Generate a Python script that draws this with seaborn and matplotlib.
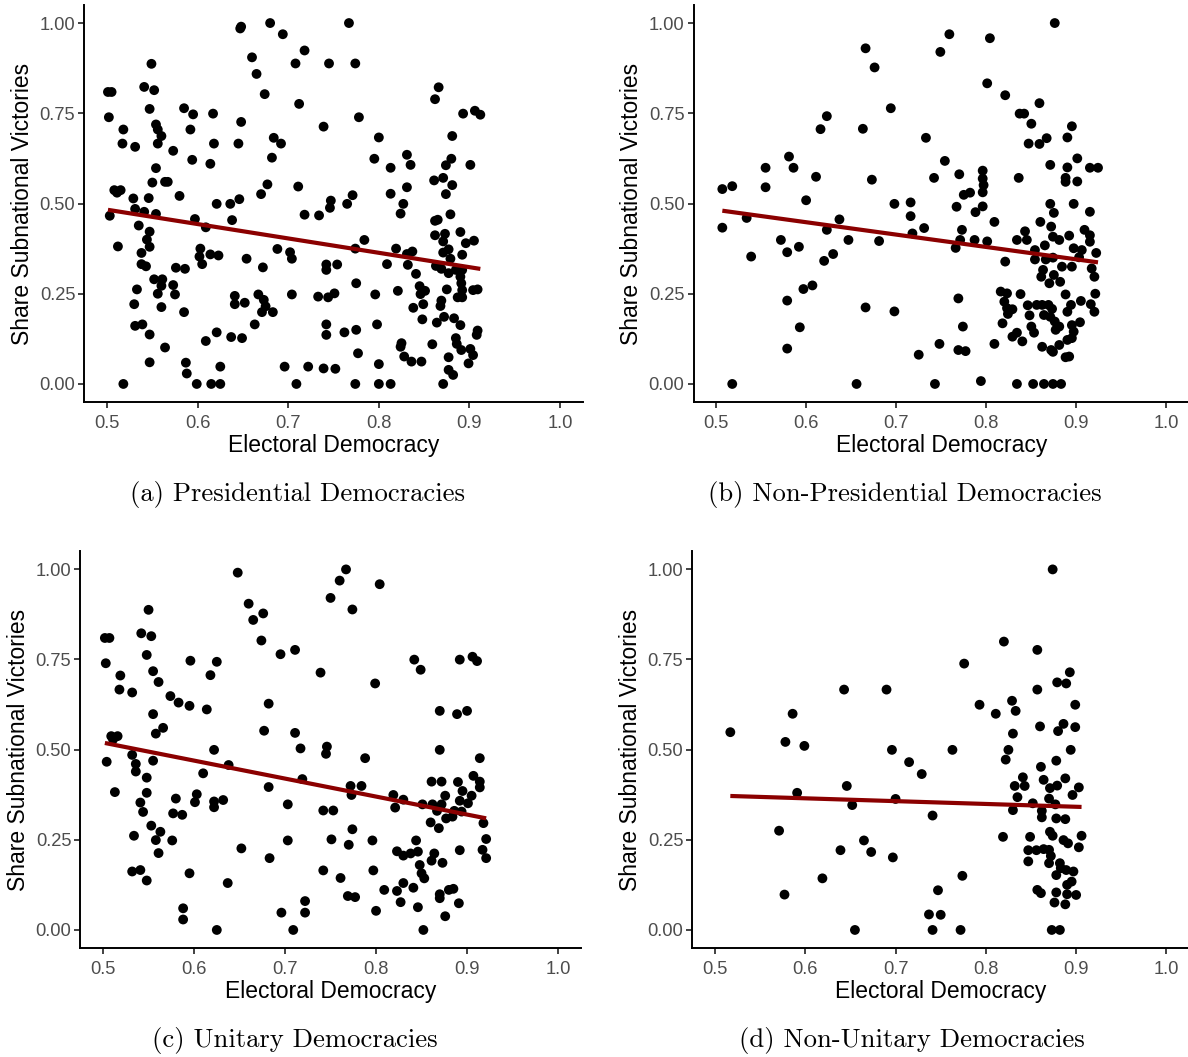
import numpy as np
import pandas as pd
import matplotlib
matplotlib.use("Agg")
import matplotlib.pyplot as plt
import seaborn as sns

# ---------------- data ----------------
pres_pts = [
    (0.647,0.985),(0.648,0.990),(0.680,1.000),(0.694,0.969),(0.660,0.905),(0.665,0.859),(0.674,0.803),
    (0.549,0.887),(0.501,0.809),(0.505,0.809),(0.541,0.823),(0.552,0.814),(0.547,0.762),(0.585,0.764),
    (0.595,0.747),(0.617,0.749),(0.502,0.739),(0.648,0.726),(0.518,0.705),(0.554,0.719),(0.556,0.705),
    (0.560,0.687),(0.592,0.705),(0.517,0.666),(0.531,0.657),(0.556,0.666),(0.573,0.646),(0.618,0.666),
    (0.645,0.666),(0.684,0.682),(0.692,0.666),(0.682,0.627),(0.594,0.621),(0.614,0.610),(0.554,0.598),
    (0.550,0.558),(0.564,0.560),(0.567,0.560),(0.677,0.553),(0.670,0.526),(0.508,0.537),(0.511,0.530),
    (0.515,0.537),(0.529,0.514),(0.546,0.515),(0.580,0.521),(0.646,0.512),(0.636,0.499),(0.621,0.499),
    (0.531,0.485),(0.541,0.477),(0.554,0.471),(0.503,0.466),(0.597,0.457),(0.609,0.434),(0.638,0.454),
    (0.535,0.439),(0.547,0.422),(0.544,0.400),(0.547,0.380),(0.512,0.381),(0.538,0.363),(0.538,0.332),
    (0.543,0.326),(0.603,0.375),(0.602,0.353),(0.605,0.332),(0.614,0.359),(0.623,0.356),(0.576,0.322),
    (0.586,0.319),(0.654,0.347),(0.672,0.323),(0.688,0.374),(0.702,0.365),(0.704,0.347),(0.552,0.290),
    (0.561,0.290),(0.560,0.272),(0.573,0.274),(0.556,0.250),(0.575,0.248),(0.533,0.262),(0.530,0.221),
    (0.560,0.213),(0.585,0.199),(0.641,0.244),(0.641,0.221),(0.652,0.225),(0.667,0.248),(0.673,0.233),
    (0.675,0.215),(0.671,0.199),(0.683,0.199),(0.704,0.248),(0.663,0.165),(0.531,0.161),(0.539,0.165),
    (0.547,0.137),(0.564,0.101),(0.609,0.119),(0.621,0.143),(0.637,0.130),(0.649,0.127),(0.547,0.060),
    (0.587,0.059),(0.588,0.029),(0.625,0.048),(0.696,0.048),(0.518,0.000),(0.599,0.000),(0.615,0.000),
    (0.625,0.000),
    (0.767,1.000),(0.718,0.924),(0.708,0.888),(0.745,0.888),(0.774,0.888),(0.712,0.776),(0.739,0.713),
    (0.778,0.739),(0.866,0.822),(0.862,0.789),(0.893,0.749),(0.906,0.757),(0.912,0.746),(0.881,0.687),
    (0.800,0.683),(0.795,0.624),(0.813,0.599),(0.831,0.635),(0.835,0.607),(0.880,0.624),(0.874,0.606),
    (0.901,0.607),(0.861,0.564),(0.871,0.571),(0.881,0.551),(0.874,0.526),(0.711,0.547),(0.813,0.527),
    (0.831,0.545),(0.827,0.499),(0.824,0.472),(0.747,0.508),(0.746,0.488),(0.771,0.523),(0.765,0.499),
    (0.718,0.469),(0.734,0.467),(0.879,0.470),(0.862,0.452),(0.865,0.455),(0.890,0.421),(0.862,0.412),
    (0.873,0.416),(0.871,0.395),(0.877,0.373),(0.871,0.364),(0.879,0.347),(0.896,0.390),(0.905,0.397),
    (0.892,0.358),(0.784,0.399),(0.774,0.375),(0.819,0.375),(0.831,0.360),(0.837,0.367),(0.832,0.330),
    (0.809,0.332),(0.742,0.331),(0.742,0.316),(0.754,0.331),(0.863,0.327),(0.869,0.319),(0.877,0.307),
    (0.885,0.316),(0.892,0.316),(0.890,0.297),(0.891,0.279),(0.887,0.240),(0.892,0.240),(0.892,0.260),
    (0.904,0.260),(0.909,0.262),(0.841,0.305),(0.775,0.279),(0.733,0.242),(0.744,0.240),(0.751,0.251),
    (0.796,0.248),(0.821,0.258),(0.845,0.271),(0.846,0.249),(0.851,0.258),(0.875,0.262),(0.849,0.221),
    (0.838,0.211),(0.869,0.231),(0.868,0.216),(0.848,0.179),(0.864,0.170),(0.872,0.186),(0.883,0.182),
    (0.890,0.163),(0.909,0.148),(0.908,0.136),(0.742,0.165),(0.742,0.136),(0.762,0.143),(0.775,0.150),
    (0.798,0.165),(0.777,0.085),(0.825,0.113),(0.824,0.103),(0.828,0.076),(0.836,0.062),(0.847,0.062),
    (0.859,0.110),(0.885,0.127),(0.886,0.111),(0.891,0.094),(0.901,0.097),(0.904,0.080),(0.899,0.057),
    (0.877,0.074),(0.877,0.039),(0.882,0.025),(0.800,0.055),(0.722,0.048),(0.739,0.043),(0.752,0.042),
    (0.709,0.000),(0.774,0.000),(0.800,0.000),(0.813,0.000),(0.871,0.000),
]

nonpres_pts = [
    (0.666,0.930),(0.676,0.877),(0.694,0.764),(0.623,0.742),(0.616,0.706),(0.663,0.707),(0.581,0.630),
    (0.555,0.599),(0.586,0.599),(0.611,0.574),(0.507,0.540),(0.518,0.548),(0.555,0.545),(0.673,0.566),
    (0.600,0.509),(0.698,0.499),(0.534,0.460),(0.507,0.433),(0.637,0.456),(0.623,0.427),(0.647,0.399),
    (0.681,0.396),(0.572,0.399),(0.579,0.365),(0.592,0.380),(0.539,0.353),(0.620,0.341),(0.630,0.360),
    (0.597,0.263),(0.607,0.273),(0.579,0.231),(0.666,0.212),(0.698,0.201),(0.593,0.157),(0.579,0.098),
    (0.518,0.000),(0.656,0.000),
    (0.876,1.000),(0.759,0.969),(0.804,0.958),(0.749,0.920),(0.801,0.833),(0.821,0.800),(0.859,0.778),
    (0.837,0.749),(0.842,0.749),(0.850,0.721),(0.895,0.714),(0.890,0.683),(0.867,0.681),(0.847,0.666),
    (0.859,0.665),(0.733,0.682),(0.754,0.618),(0.901,0.625),(0.871,0.607),(0.890,0.600),(0.915,0.599),
    (0.924,0.599),(0.888,0.571),(0.888,0.560),(0.901,0.561),(0.742,0.571),(0.770,0.581),(0.796,0.591),
    (0.796,0.569),(0.797,0.551),(0.796,0.531),(0.775,0.524),(0.782,0.530),(0.836,0.571),(0.716,0.503),
    (0.716,0.465),(0.767,0.491),(0.796,0.492),(0.788,0.476),(0.871,0.499),(0.875,0.474),(0.897,0.499),
    (0.915,0.477),(0.809,0.449),(0.860,0.449),(0.718,0.417),(0.731,0.432),(0.773,0.427),(0.771,0.399),
    (0.787,0.399),(0.801,0.395),(0.766,0.377),(0.843,0.423),(0.834,0.399),(0.845,0.399),(0.872,0.436),
    (0.874,0.408),(0.881,0.399),(0.892,0.411),(0.909,0.427),(0.915,0.412),(0.915,0.394),(0.922,0.363),
    (0.854,0.371),(0.865,0.384),(0.854,0.345),(0.866,0.345),(0.874,0.350),(0.897,0.376),(0.906,0.371),
    (0.903,0.351),(0.821,0.339),(0.863,0.316),(0.861,0.297),(0.875,0.302),(0.870,0.279),(0.882,0.283),
    (0.884,0.325),(0.895,0.325),(0.917,0.320),(0.920,0.297),(0.816,0.256),(0.823,0.251),(0.820,0.228),
    (0.823,0.210),(0.829,0.207),(0.824,0.194),(0.838,0.249),(0.846,0.218),(0.848,0.190),(0.856,0.219),
    (0.862,0.219),(0.869,0.219),(0.873,0.208),(0.864,0.191),(0.871,0.186),(0.888,0.248),(0.894,0.219),
    (0.905,0.230),(0.916,0.221),(0.921,0.250),(0.920,0.200),(0.890,0.200),(0.769,0.237),(0.818,0.168),
    (0.850,0.159),(0.853,0.142),(0.876,0.173),(0.881,0.159),(0.877,0.150),(0.895,0.163),(0.904,0.171),
    (0.897,0.145),(0.774,0.159),(0.829,0.131),(0.834,0.142),(0.840,0.118),(0.895,0.127),(0.890,0.122),
    (0.862,0.103),(0.872,0.094),(0.881,0.108),(0.874,0.089),(0.888,0.074),(0.892,0.076),(0.748,0.111),
    (0.725,0.081),(0.769,0.094),(0.777,0.091),(0.809,0.111),(0.743,0.000),(0.794,0.008),(0.834,0.000),
    (0.852,0.000),(0.864,0.000),(0.874,0.000),(0.883,0.000),
]

unitary_pts = [
    (0.648,0.990),(0.660,0.904),(0.665,0.859),(0.676,0.877),(0.674,0.802),(0.695,0.764),(0.550,0.887),
    (0.502,0.809),(0.507,0.809),(0.542,0.822),(0.553,0.814),(0.548,0.762),(0.503,0.739),(0.519,0.705),
    (0.555,0.717),(0.561,0.687),(0.596,0.746),(0.625,0.743),(0.618,0.706),(0.518,0.666),(0.532,0.658),
    (0.574,0.648),(0.583,0.630),(0.595,0.621),(0.614,0.611),(0.682,0.627),(0.555,0.598),(0.566,0.560),
    (0.558,0.544),(0.677,0.552),(0.509,0.537),(0.516,0.537),(0.511,0.528),(0.622,0.499),(0.532,0.485),
    (0.536,0.460),(0.536,0.439),(0.555,0.469),(0.504,0.466),(0.638,0.457),(0.610,0.434),(0.548,0.422),
    (0.548,0.380),(0.513,0.382),(0.541,0.353),(0.544,0.327),(0.682,0.396),(0.580,0.364),(0.603,0.376),
    (0.601,0.354),(0.622,0.356),(0.622,0.340),(0.632,0.360),(0.577,0.323),(0.587,0.319),(0.703,0.348),
    (0.553,0.289),(0.563,0.272),(0.558,0.249),(0.576,0.248),(0.561,0.213),(0.534,0.261),(0.703,0.248),
    (0.652,0.226),(0.683,0.199),(0.532,0.162),(0.541,0.166),(0.548,0.137),(0.595,0.157),(0.637,0.130),
    (0.588,0.060),(0.588,0.029),(0.625,0.000),(0.696,0.048),
    (0.767,0.999),(0.760,0.968),(0.750,0.920),(0.774,0.888),(0.804,0.958),(0.711,0.776),(0.739,0.713),
    (0.799,0.683),(0.842,0.749),(0.849,0.721),(0.892,0.749),(0.906,0.757),(0.911,0.745),(0.870,0.607),
    (0.889,0.598),(0.900,0.607),(0.870,0.499),(0.914,0.476),(0.711,0.546),(0.717,0.503),(0.746,0.508),
    (0.745,0.488),(0.788,0.476),(0.719,0.418),(0.772,0.399),(0.773,0.374),(0.784,0.399),(0.742,0.331),
    (0.753,0.331),(0.819,0.374),(0.821,0.339),(0.830,0.361),(0.851,0.348),(0.861,0.411),(0.872,0.411),
    (0.890,0.410),(0.907,0.427),(0.914,0.411),(0.914,0.395),(0.876,0.372),(0.895,0.385),(0.905,0.372),
    (0.892,0.358),(0.901,0.351),(0.862,0.348),(0.872,0.348),(0.867,0.330),(0.877,0.309),(0.886,0.330),
    (0.894,0.328),(0.884,0.314),(0.860,0.298),(0.869,0.282),(0.918,0.296),(0.774,0.279),(0.751,0.251),
    (0.770,0.236),(0.796,0.248),(0.844,0.248),(0.823,0.218),(0.830,0.206),(0.838,0.212),(0.846,0.217),
    (0.892,0.221),(0.864,0.212),(0.861,0.192),(0.873,0.186),(0.921,0.252),(0.917,0.222),(0.921,0.199),
    (0.848,0.180),(0.850,0.157),(0.853,0.143),(0.742,0.165),(0.761,0.144),(0.797,0.165),(0.809,0.111),
    (0.823,0.108),(0.830,0.130),(0.841,0.117),(0.769,0.094),(0.777,0.091),(0.827,0.077),(0.846,0.063),
    (0.870,0.099),(0.870,0.088),(0.880,0.111),(0.885,0.114),(0.891,0.074),(0.876,0.038),(0.722,0.080),
    (0.722,0.048),(0.800,0.053),(0.709,0.000),(0.852,0.000),
]

nonunitary_pts = [
    (0.643,0.666),(0.690,0.666),(0.586,0.599),(0.517,0.548),(0.578,0.521),(0.599,0.510),(0.696,0.499),
    (0.591,0.380),(0.646,0.399),(0.652,0.346),(0.700,0.363),(0.571,0.275),(0.639,0.221),(0.665,0.248),
    (0.673,0.216),(0.697,0.201),(0.619,0.143),(0.577,0.098),(0.655,0.000),
    (0.874,0.999),(0.820,0.799),(0.857,0.776),(0.776,0.738),(0.893,0.714),(0.879,0.686),(0.889,0.683),
    (0.857,0.666),(0.793,0.624),(0.811,0.599),(0.829,0.635),(0.833,0.607),(0.830,0.544),(0.899,0.624),
    (0.860,0.564),(0.880,0.551),(0.886,0.571),(0.899,0.562),(0.763,0.499),(0.825,0.499),(0.822,0.472),
    (0.894,0.499),(0.715,0.465),(0.729,0.432),(0.861,0.452),(0.878,0.469),(0.841,0.423),(0.832,0.399),
    (0.843,0.399),(0.835,0.368),(0.864,0.416),(0.871,0.393),(0.879,0.400),(0.888,0.420),(0.903,0.395),
    (0.896,0.374),(0.870,0.364),(0.877,0.348),(0.852,0.351),(0.830,0.332),(0.862,0.330),(0.862,0.312),
    (0.878,0.309),(0.888,0.307),(0.741,0.317),(0.819,0.258),(0.849,0.258),(0.871,0.272),(0.874,0.261),
    (0.886,0.249),(0.891,0.240),(0.906,0.261),(0.903,0.229),(0.847,0.221),(0.847,0.190),(0.856,0.221),
    (0.864,0.224),(0.870,0.222),(0.872,0.205),(0.870,0.185),(0.882,0.185),(0.883,0.171),(0.878,0.152),
    (0.889,0.166),(0.897,0.162),(0.895,0.134),(0.890,0.125),(0.890,0.099),(0.888,0.071),(0.900,0.097),
    (0.774,0.150),(0.747,0.110),(0.737,0.043),(0.750,0.042),(0.857,0.111),(0.861,0.102),(0.878,0.104),
    (0.876,0.076),(0.741,0.000),(0.772,0.000),(0.873,0.000),(0.882,0.000),
]

captions = ["(a) Presidential Democracies", "(b) Non-Presidential Democracies",
            "(c) Unitary Democracies", "(d) Non-Unitary Democracies"]
x_ticks = [0.5, 0.6, 0.7, 0.8, 0.9, 1.0]
x_tick_labels = ["0.5", "0.6", "0.7", "0.8", "0.9", "1.0"]
y_ticks = [0.0, 0.25, 0.5, 0.75, 1.0]
y_tick_labels = ["0.00", "0.25", "0.50", "0.75", "1.00"]
x_title = "Electoral Democracy"
y_title = "Share Subnational Victories"

# ---------------- style ----------------
sns.set_theme(style="ticks")
plt.rcParams['font.family'] = ['Liberation Sans', 'DejaVu Sans']

W, H = 1188, 1057
fig = plt.figure(figsize=(W / 100, H / 100), dpi=100)
fig.patch.set_facecolor("white")

# axes rectangles in pixels: (left, top, right, bottom)
rects_px = [
    (84.4, 5.0, 582.7, 402.0),
    (693.5, 5.0, 1189.0, 402.0),
    (80.3, 551.0, 580.8, 948.0),
    (692.4, 551.0, 1189.0, 948.0),
]
caption_px = [(297.5, 500.5), (904.5, 500.5), (295.0, 1046.5), (911.5, 1046.5)]

datasets = [pres_pts, nonpres_pts, unitary_pts, nonunitary_pts]

for pts, (l, t, r, b), cap, (cx, cy) in zip(datasets, rects_px, captions, caption_px):
    ax = fig.add_axes([l / W, 1 - b / H, (r - l) / W, (b - t) / H])
    df = pd.DataFrame(pts, columns=["x", "y"])
    sns.scatterplot(data=df, x="x", y="y", ax=ax, color="black", s=50,
                    edgecolor="none", linewidth=0, zorder=2, clip_on=False)
    sns.regplot(data=df, x="x", y="y", ax=ax, scatter=False, ci=None, truncate=True,
                line_kws=dict(color="#8B0000", linewidth=3.0, zorder=3, solid_capstyle="butt"))
    ax.set_xlim(0.475, 1.025)
    ax.set_ylim(-0.05, 1.05)
    ax.set_xticks(x_ticks)
    ax.set_xticklabels(x_tick_labels)
    ax.set_yticks(y_ticks)
    ax.set_yticklabels(y_tick_labels)
    ax.set_xlabel(x_title, fontsize=16.5, color="black", labelpad=1.5)
    ax.set_ylabel(y_title, fontsize=16.5, color="black", labelpad=4.0)
    ax.tick_params(axis="both", labelsize=13.2, labelcolor="#4D4D4D", color="#333333",
                   width=1.3, length=4.0)
    ax.tick_params(axis="x", pad=5.2)
    ax.tick_params(axis="y", pad=2.5)
    sns.despine(ax=ax)
    for side in ("left", "bottom"):
        ax.spines[side].set_linewidth(1.4)
        ax.spines[side].set_color("black")
    ax.set_facecolor("white")
    fig.text(cx / W, 1 - cy / H, cap, ha="center", va="baseline",
             fontsize=19.2, family="cmr10", color="black")

fig.savefig("out.png", dpi=100, facecolor="white")
